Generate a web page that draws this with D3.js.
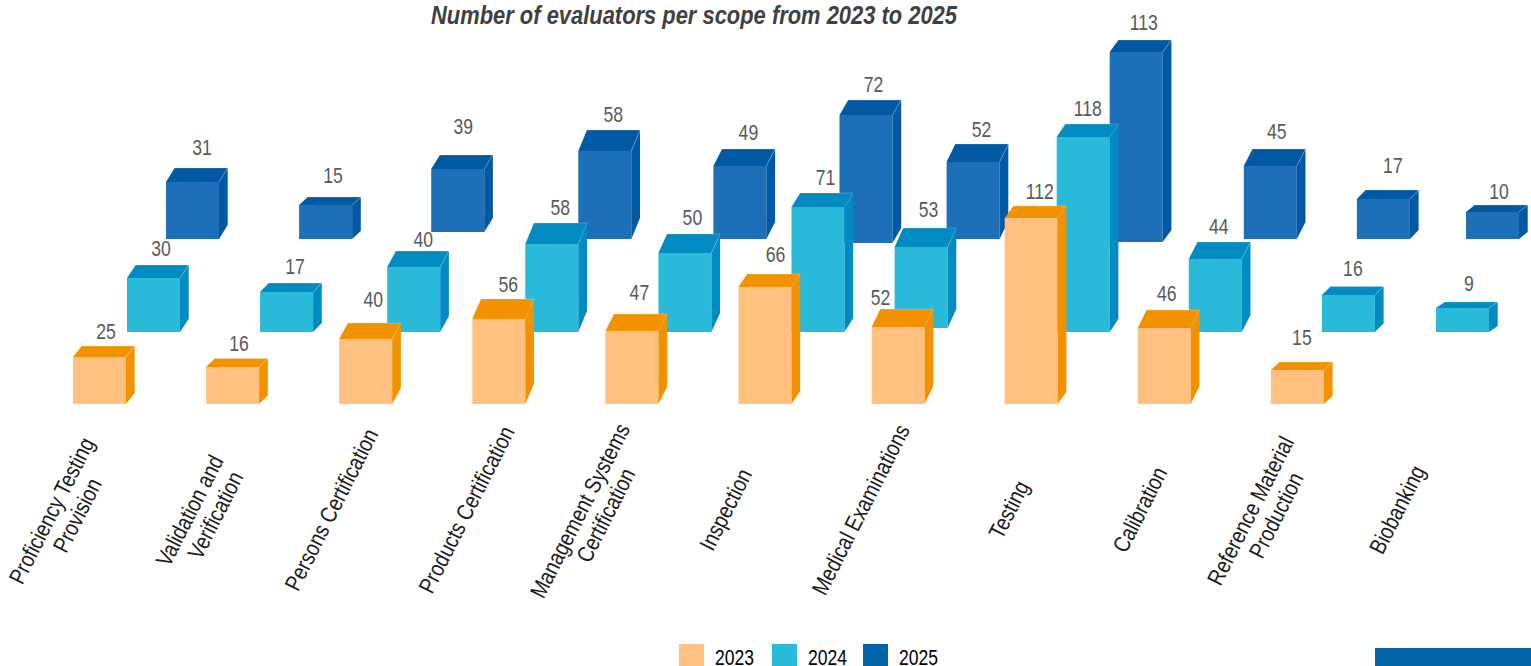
<!DOCTYPE html>
<html>
<head>
<meta charset="utf-8">
<script src="https://cdn.jsdelivr.net/npm/d3@7"></script>
<style>
  html, body { margin: 0; padding: 0; background: #fff; overflow: hidden; }
  svg { display: block; }
  text { font-family: "Liberation Sans", Arial, sans-serif; }
</style>
</head>
<body>
<svg id="chart" width="1531" height="666"></svg>
<script>
const categories = [
  "Proficiency Testing\nProvision", "Validation and\nVerification", "Persons Certification",
  "Products Certification", "Management Systems\nCertification", "Inspection",
  "Medical Examinations", "Testing", "Calibration",
  "Reference Material\nProduction", "Biobanking"
];
const years = ["2023", "2024", "2025"];
const values2023 = [25, 16, 40, 56, 47, 66, 52, 112, 46, 15, null];
const values2024 = [30, 17, 40, 58, 50, 71, 53, 118, 44, 16, 9];
const values2025 = [31, 15, 39, 58, 49, 72, 52, 113, 45, 17, 10];
const allValues = [values2023, values2024, values2025];

// the source picture is not to a single scale, so bar height and depth follow these stops
const stopValues = [9, 10, 15, 17, 25, 30, 31, 39, 40, 44, 45, 46, 47, 49, 50, 52, 53, 56, 58, 66, 71, 72, 112, 113, 118];
const stopHeights = [24, 27, 34, 40, 47, 54, 57, 63, 65, 73, 73, 76, 73, 73, 79, 77, 81, 85, 88, 117, 125, 128, 186, 190, 195];
const stopDepths = [6, 7, 8, 9, 11, 13, 14, 14, 16, 17, 17, 18, 17, 17, 19, 18, 19, 20, 21, 13, 14, 15, 12, 12, 13];

const frontColors = ["#ffc080", "#2abad9", "#1d6fb8"];
const darkColors = ["#f39200", "#028bc1", "#0259a3"];
const legendColors = ["#ffc080", "#2abad9", "#0464a8"];

// per bar placement, the bars were shifted by hand in the original
const seriesOffset = [0, 54, 93];
const seriesBase = [404, 332, 239];
const xNudge = [
  [0, 0, 0, 0, 0, 0, 0, 0, 0, 0, 0],
  [0, 0, -6, -1, -1, -1, -31, -2, -3, -3, -22],
  [0, 0, -1, 13, 15, 8, -18, 12, 13, -7, -31]
];
const baseNudge = [
  [0, 0, 0, 0, 0, 0, 0, 0, 0, 0, 0],
  [0, 0, 0, 0, 0, 0, -4, 0, 0, 0, 0],
  [0, 0, -7, 0, 0, 4, 0, 3, 0, 0, 0]
];
const labelGap = [
  [15, 16, 24, 15, 22, 20, 12, 15, 17, 25, 0],
  [17, 17, 12, 16, 17, 16, 19, 16, 16, 19, 19],
  [21, 22, 29, 16, 17, 16, 15, 18, 18, 25, 14]
];
const labelShift = [
  [33, 33, 34, 36, 34, 37, 9, 35, 29, 31, 0],
  [34, 35, 36, 35, 34, 34, 34, 31, 30, 31, 33],
  [36, 34, 32, 35, 35, 34, 35, 34, 33, 36, 33]
];
const catLabelNudge = [0, 5, -1, 1, -4, -6, -4, 11, 9, 1, 0];

const svg = d3.select("#chart");
const barWidth = 53;
const sideWidth = 8.7;

const x = d3.scalePoint()
  .domain(categories)
  .range([73, 73 + 133.1 * 10]);

const barHeight = d3.scaleLinear().domain(stopValues).range(stopHeights);
const barDepth = d3.scaleLinear().domain(stopValues).range(stopDepths);

const bars = [];
allValues.forEach((vals, s) => {
  vals.forEach((v, i) => {
    if (v === null) return;
    const left = x(categories[i]) + seriesOffset[s] + xNudge[s][i];
    const base = seriesBase[s] + baseNudge[s][i];
    bars.push({
      series: s, index: i, value: v, left, base,
      top: base - barHeight(v),
      depth: barDepth(v)
    });
  });
});

const pts = arr => arr.map(p => p.join(",")).join(" ");

// back series first so the front ones cover them
const barG = svg.append("g");
[2, 1, 0].forEach(s => {
  const g = barG.append("g").attr("class", "series-" + years[s]);
  const data = bars.filter(d => d.series === s);

  g.selectAll(".front").data(data).enter().append("rect")
    .attr("class", "front")
    .attr("x", d => d.left)
    .attr("y", d => d.top)
    .attr("width", barWidth)
    .attr("height", d => d.base - d.top)
    .attr("fill", frontColors[s]);

  g.selectAll(".side").data(data).enter().append("polygon")
    .attr("class", "side")
    .attr("points", d => {
      const r = d.left + barWidth;
      return pts([[r, d.top], [r + sideWidth, d.top - d.depth], [r + sideWidth, d.base - d.depth], [r, d.base]]);
    })
    .attr("fill", darkColors[s]);

  g.selectAll(".cap").data(data).enter().append("polygon")
    .attr("class", "cap")
    .attr("points", d => {
      const r = d.left + barWidth;
      return pts([[d.left, d.top], [d.left + sideWidth, d.top - d.depth], [r + sideWidth, d.top - d.depth], [r, d.top]]);
    })
    .attr("fill", darkColors[s]);

  // faint highlight on the cube edges
  g.selectAll(".edge").data(data).enter().append("polyline")
    .attr("class", "edge")
    .attr("points", d => {
      const r = d.left + barWidth;
      return pts([[d.left + sideWidth, d.top - d.depth], [r + sideWidth, d.top - d.depth], [r, d.top]]);
    })
    .attr("fill", "none")
    .attr("stroke", "#fff")
    .attr("stroke-opacity", 0.3)
    .attr("stroke-width", 0.7);
});

// value labels
svg.append("g").selectAll("text")
  .data(bars)
  .enter()
  .append("text")
  .attr("transform", d => {
    const cx = d.left + labelShift[d.series][d.index];
    const cy = d.top - d.depth - labelGap[d.series][d.index];
    return `translate(${cx},${cy + 8}) scale(0.8,1)`;
  })
  .attr("text-anchor", "middle")
  .attr("font-size", 22)
  .attr("fill", "#595959")
  .text(d => d.value);

// category labels, narrow glyphs turned steeply
const catG = svg.append("g");
categories.forEach((c, i) => {
  const lines = c.split("\n");
  const t = catG.append("text")
    .attr("transform", `translate(${x(c) - 6 + catLabelNudge[i]},510) rotate(-63) scale(0.84,1)`)
    .attr("text-anchor", "middle")
    .attr("font-size", 23)
    .attr("fill", "#1a1a1a");
  lines.forEach((line, k) => {
    t.append("tspan")
      .attr("x", lines.length > 1 && k === 0 ? -9 : 0)
      .attr("y", (k - (lines.length - 1) / 2) * 25 + 7)
      .text(line);
  });
});

svg.append("text")
  .attr("x", 694)
  .attr("y", 24)
  .attr("text-anchor", "middle")
  .attr("font-size", 25)
  .attr("font-weight", "bold")
  .attr("font-style", "italic")
  .attr("fill", "#404040")
  .attr("textLength", 526)
  .attr("lengthAdjust", "spacingAndGlyphs")
  .text("Number of evaluators per scope from 2023 to 2025");

// legend
const legendX = d3.scaleOrdinal().domain(years).range([679, 772, 863]);
const legend = svg.append("g").selectAll("g")
  .data(years)
  .enter()
  .append("g");

legend.append("rect")
  .attr("x", d => legendX(d))
  .attr("y", 644)
  .attr("width", 25)
  .attr("height", 22)
  .attr("fill", (d, i) => legendColors[i]);

legend.append("text")
  .attr("x", d => legendX(d) + 36)
  .attr("y", 665)
  .attr("font-size", 22)
  .attr("fill", "#000")
  .attr("textLength", 39)
  .attr("lengthAdjust", "spacingAndGlyphs")
  .text(d => d);

// band in the bottom right corner of the source
svg.append("rect")
  .attr("x", 1375)
  .attr("y", 648)
  .attr("width", 156)
  .attr("height", 18)
  .attr("fill", "#0464a8");
</script>
</body>
</html>
